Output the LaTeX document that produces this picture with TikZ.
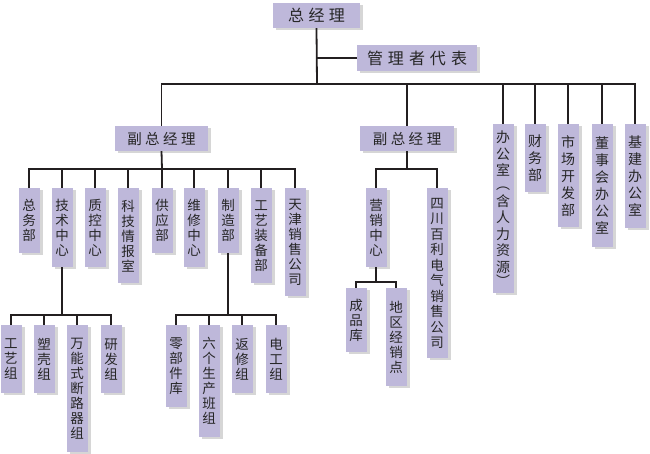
\documentclass[tikz,border=0pt]{standalone}
\usepackage{fontspec}
\newfontfamily\cjk{Noto Sans CJK SC}
\usetikzlibrary{shadows}
\definecolor{boxfill}{RGB}{190,184,218}
\definecolor{shadecol}{RGB}{214,214,214}
\definecolor{linec}{RGB}{35,31,32}
\tikzset{
  box/.style={fill=boxfill, draw=none, inner sep=0pt, text=black!85,
    general shadow={fill=shadecol, shadow xshift=3pt, shadow yshift=-2pt}},
  hbox/.style={box, font=\cjk\fontsize{16}{16}\selectfont},
  vbox/.style={box, anchor=north, minimum width=21pt, align=center,
    font=\cjk\fontsize{13.5}{15}\selectfont},
  vboxr/.style={vbox, font=\cjk\fontsize{14}{17}\selectfont},
  conn/.style={draw=linec, line width=1.8pt},
}
\newcommand\gp[1]{\hspace{#1pt}}
\begin{document}
\begin{tikzpicture}[x=1pt,y=-1pt]
\useasboundingbox (0,0) rectangle (650,453);
% top level
\node[hbox, minimum width=87pt, minimum height=25pt] (zjl) at (316.5,15.5) {总\gp{4.5}经\gp{4.5}理};
\node[hbox, minimum width=120pt, minimum height=26pt] (glz) at (417,58) {管\gp{5}理\gp{5}者\gp{5}代\gp{5}表};
\node[hbox, font=\cjk\fontsize{14.5}{14.5}\selectfont, minimum width=93pt, minimum height=25pt] (fz1) at (161.5,138.5) {副\gp{3.5}总\gp{3.5}经\gp{3.5}理};
\node[hbox, font=\cjk\fontsize{14.5}{14.5}\selectfont, minimum width=94pt, minimum height=25pt] (fz2) at (407,138.5) {副\gp{3.5}总\gp{3.5}经\gp{3.5}理};
% right column
\node[vboxr, minimum height=169pt, font=\cjk\fontsize{14}{16.5}\selectfont] (bgs) at (503,124) {办\\公\\室\\[-2.5pt]︵\\含\\人\\力\\资\\源\\[-2.5pt]︶};
\node[vboxr, minimum height=68pt] (cwb) at (535,124) {财\\务\\部};
\node[vboxr, minimum height=103pt] (scb) at (568,124) {市\\场\\开\\发\\部};
\node[vboxr, minimum height=123pt] (dsh) at (602,124) {董\\事\\会\\办\\公\\室};
\node[vboxr, minimum height=104pt] (jjb) at (635,124) {基\\建\\办\\公\\室};
% left level 2
\node[vbox, minimum height=65pt] (zwb) at (29,188) {总\\务\\部};
\node[vbox, minimum height=79pt] (jszx) at (62,188) {技\\术\\中\\心};
\node[vbox, minimum height=79pt] (zkzx) at (95,188) {质\\控\\中\\心};
\node[vbox, minimum height=95pt] (kjqb) at (128,188) {科\\技\\情\\报\\室};
\node[vbox, minimum height=65pt] (gyb) at (162,188) {供\\应\\部};
\node[vbox, minimum height=79pt] (wxzx) at (194,188) {维\\修\\中\\心};
\node[vbox, minimum height=65pt] (zzb) at (228,188) {制\\造\\部};
\node[vbox, minimum height=95pt] (gyzb) at (261,188) {工\\艺\\装\\备\\部};
\node[vbox, minimum height=108pt] (tjxs) at (295,188) {天\\津\\销\\售\\公\\司};
% left level 3
\node[vbox, minimum height=68pt] (gyz) at (11,325) {工\\艺\\组};
\node[vbox, minimum height=68pt] (skz) at (44,325) {塑\\壳\\组};
\node[vbox, minimum height=127pt] (wnsz) at (77,325) {万\\能\\式\\断\\路\\器\\组};
\node[vbox, minimum height=68pt] (yfz) at (111,325) {研\\发\\组};
\node[vbox, minimum height=82pt] (lbjk) at (176,325) {零\\部\\件\\库};
\node[vbox, minimum height=112pt] (lgsc) at (209,325) {六\\个\\生\\产\\班\\组};
\node[vbox, minimum height=68pt] (fxz) at (242,325) {返\\修\\组};
\node[vbox, minimum height=68pt] (dgz) at (276,325) {电\\工\\组};
% right subtree
\node[vbox, minimum height=79pt] (yxzx) at (376,188) {营\\销\\中\\心};
\node[vbox, minimum height=170pt, font=\cjk\fontsize{13.5}{15.5}\selectfont] (scbl) at (437,188) {四\\川\\百\\利\\电\\气\\销\\售\\公\\司};
\node[vbox, minimum height=64pt] (cpk) at (356,288) {成\\品\\库};
\node[vbox, minimum height=98pt] (dqjx) at (396,288) {地\\区\\经\\销\\点};
% bus coordinates
\coordinate (bus) at (317,84);
\coordinate (rep) at (317,58);
\coordinate (b1) at (162,169);
\coordinate (b2) at (62,315);
\coordinate (b3) at (228,315);
\coordinate (b4) at (407,169);
\coordinate (b5) at (376,282);
% connectors
\draw[conn] (zjl.south) -- (bus);
\draw[conn] (rep) -- (glz.west);
\foreach \c in {fz1,fz2,bgs,cwb,scb,dsh,jjb} \draw[conn] (bus) -| (\c.north);
\draw[conn] (fz1.south) -- (b1);
\foreach \c in {zwb,jszx,zkzx,kjqb,gyb,wxzx,zzb,gyzb,tjxs} \draw[conn] (b1) -| (\c.north);
\draw[conn] (jszx.south) -- (b2);
\foreach \c in {gyz,skz,wnsz,yfz} \draw[conn] (b2) -| (\c.north);
\draw[conn] (zzb.south) -- (b3);
\foreach \c in {lbjk,lgsc,fxz,dgz} \draw[conn] (b3) -| (\c.north);
\draw[conn] (fz2.south) -- (b4);
\foreach \c in {yxzx,scbl} \draw[conn] (b4) -| (\c.north);
\draw[conn] (yxzx.south) -- (b5);
\foreach \c in {cpk,dqjx} \draw[conn] (b5) -| (\c.north);
\end{tikzpicture}
\end{document}
